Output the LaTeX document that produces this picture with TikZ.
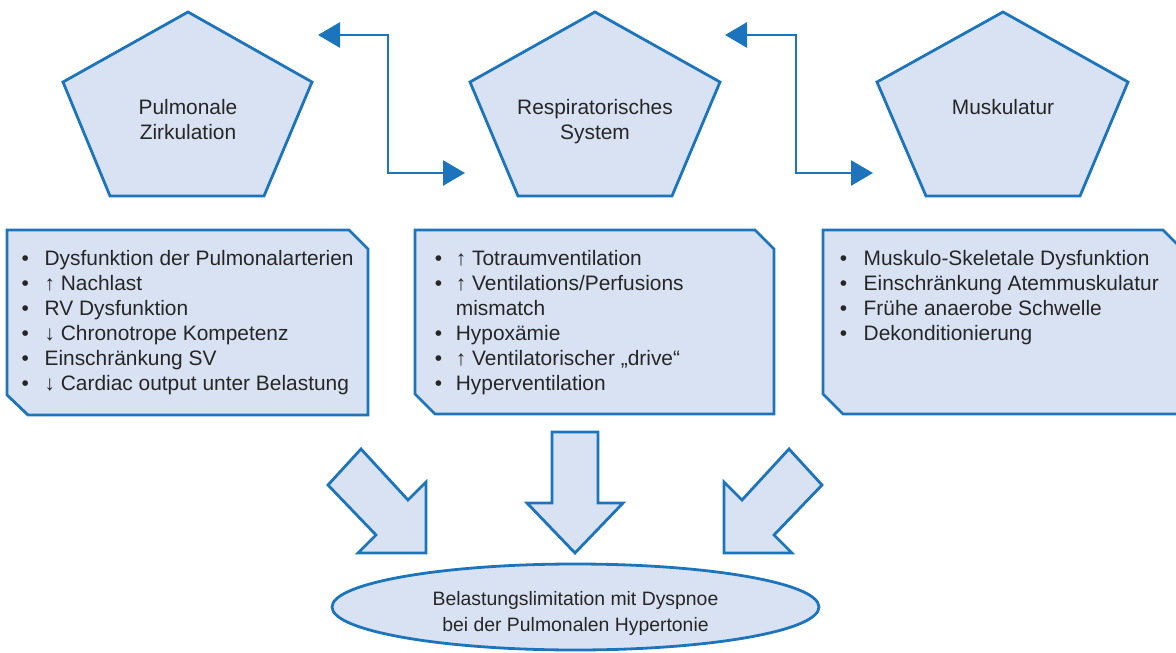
\documentclass[tikz,border=0pt]{standalone}
\usepackage{fontspec}
\setmainfont{Liberation Sans}
\usetikzlibrary{arrows.meta}
\definecolor{edgeblue}{HTML}{1C75BC}
\definecolor{fillblue}{HTML}{D9E2F3}
\definecolor{textgray}{HTML}{262626}
\tikzset{
  shapebox/.style={draw=edgeblue, fill=fillblue, line width=2.8pt, line join=miter},
  lbl/.style={text=textgray, font=\fontsize{20.9}{25}\selectfont, inner sep=0pt},
  lblsmall/.style={text=textgray, font=\fontsize{19.4}{25}\selectfont, inner sep=0pt},
  elbow/.style={draw=edgeblue, line width=2.9pt,
    arrows={Triangle[length=22pt,width=25pt]-Triangle[length=22pt,width=25pt]}},
}
\begin{document}
\begin{tikzpicture}[x=1pt,y=-1pt]
\useasboundingbox (0,0) rectangle (1176,653);

% pentagons
\draw[shapebox] (188,12) -- (312,82) -- (264,196) -- (110,196) -- (63,82) -- cycle;
\draw[shapebox] (595,12) -- (720,82) -- (672,196) -- (518,196) -- (470,82) -- cycle;
\draw[shapebox] (1003,12) -- (1128,82) -- (1080,196) -- (926,196) -- (877,82) -- cycle;

\node[lbl, anchor=base] (p1a) at (188,114) {Pulmonale};
\node[lbl, anchor=base] (p1b) at (188,139) {Zirkulation};
\node[lbl, anchor=base] (p2a) at (595,114) {Respiratorisches};
\node[lbl, anchor=base] (p2b) at (595,139) {System};
\node[lbl, anchor=base] (p3a) at (1003,114) {Muskulatur};

% elbow arrows
\coordinate (e1a) at (318,35);
\coordinate (e1b) at (465,173);
\coordinate (e2a) at (725,35);
\coordinate (e2b) at (873,173);
\draw[elbow] (e1a) -- (388,35) -- (388,173) -- (e1b);
\draw[elbow] (e2a) -- (796,35) -- (796,173) -- (e2b);

% boxes
\draw[shapebox] (7,230) -- (349,230) -- (368,249) -- (368,415) -- (28,415) -- (7,395) -- cycle;
\draw[shapebox] (415,230) -- (755,230) -- (774,249) -- (774,414) -- (435,414) -- (415,394) -- cycle;
\draw[shapebox] (823,230) -- (1163,230) -- (1183,250) -- (1183,414) -- (843,414) -- (823,394) -- cycle;

\node[lbl, anchor=north west] (t1) at (21.4,247.5) {\begin{tabular}{@{}p{23pt}@{}l@{}}
•&Dysfunktion der Pulmonalarterien\\
•&↑ Nachlast\\
•&RV Dysfunktion\\
•&↓ Chronotrope Kompetenz\\
•&Einschränkung SV\\
•&↓ Cardiac output unter Belastung
\end{tabular}};

\node[lbl, anchor=north west] (t2) at (434.7,247.5) {\begin{tabular}{@{}p{21pt}@{}l@{}}
•&↑ Totraumventilation\\
•&↑ Ventilations/Perfusions\\
&mismatch\\
•&Hypoxämie\\
•&↑ Ventilatorischer „drive“\\
•&Hyperventilation
\end{tabular}};

\node[lbl, anchor=north west] (t3) at (839.7,247.5) {\begin{tabular}{@{}p{23.8pt}@{}l@{}}
•&Muskulo-Skeletale Dysfunktion\\
•&Einschränkung Atemmuskulatur\\
•&Frühe anaerobe Schwelle\\
•&Dekonditionierung
\end{tabular}};

% block arrows
\draw[shapebox] (361,449) -- (408,500) -- (426,482) -- (426,553) -- (358,553) -- (376,535) -- (328,485) -- cycle;
\draw[shapebox] (552,432) -- (598,432) -- (598,503) -- (623,503) -- (575,553) -- (527,503) -- (552,503) -- cycle;
\draw[shapebox] (789,449) -- (742,500) -- (724,482) -- (724,553) -- (792,553) -- (774,535) -- (822,485) -- cycle;

% ellipse
\draw[shapebox] (575.5,607) ellipse [x radius=243.5, y radius=43];
\node[lblsmall, anchor=base] (r1) at (575.5,605) {Belastungslimitation mit Dyspnoe};
\node[lblsmall, anchor=base] (r2) at (575.5,631) {bei der Pulmonalen Hypertonie};
\end{tikzpicture}
\end{document}
